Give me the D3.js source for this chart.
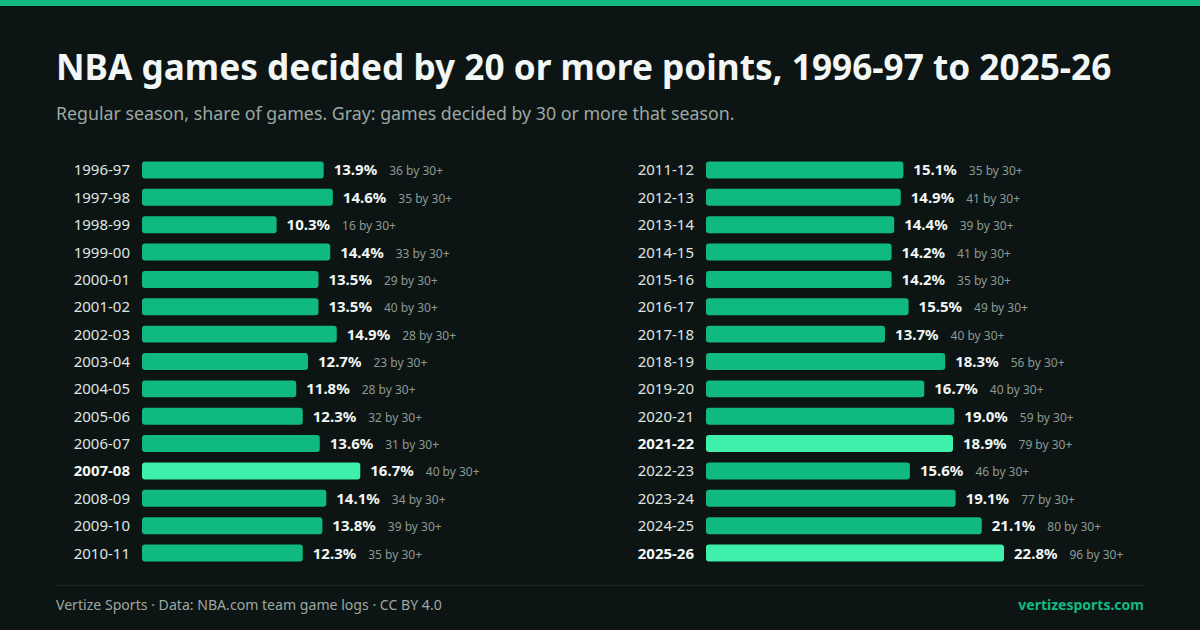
<!DOCTYPE html>
<html>
<head>
<meta charset="utf-8">
<script src="https://cdn.jsdelivr.net/npm/d3@7"></script>
<style>
body { margin:0; background:#0c1513; }
svg { display:block; font-family:"Noto Sans", "Open Sans", sans-serif; }
</style>
</head>
<body>
<svg></svg>
<script>
// seasons, share decided by 20+, count decided by 30+
var seasons = ["1996-97","1997-98","1998-99","1999-00","2000-01","2001-02","2002-03","2003-04","2004-05","2005-06","2006-07","2007-08","2008-09","2009-10","2010-11",
               "2011-12","2012-13","2013-14","2014-15","2015-16","2016-17","2017-18","2018-19","2019-20","2020-21","2021-22","2022-23","2023-24","2024-25","2025-26"];
var share20 = [13.9,14.6,10.3,14.4,13.5,13.5,14.9,12.7,11.8,12.3,13.6,16.7,14.1,13.8,12.3,
               15.1,14.9,14.4,14.2,14.2,15.5,13.7,18.3,16.7,19.0,18.9,15.6,19.1,21.1,22.8];
var games30 = [36,35,16,33,29,40,28,23,28,32,31,40,34,39,35,
               35,41,39,41,35,49,40,56,40,59,79,46,77,80,96];
var highlight = ["2007-08","2021-22","2025-26"];

var W = 1200, H = 630;
var svg = d3.select('svg').attr('width',W).attr('height',H);

svg.append('rect').attr('width',W).attr('height',H).attr('fill','#0c1513');
svg.append('rect').attr('width',W).attr('height',6).attr('fill','#10b981');

svg.append('text')
  .attr('x',56).attr('y',80)
  .attr('fill','#f2f6f4')
  .attr('font-size',35.2).attr('font-weight',700)
  .text('NBA games decided by 20 or more points, 1996-97 to 2025-26');

svg.append('text')
  .attr('x',56).attr('y',120)
  .attr('fill','#9ca8a3')
  .attr('font-size',17.8)
  .text('Regular season, share of games. Gray: games decided by 30 or more that season.');

var data = seasons.map(function(s,i){
  return {season:s, v:share20[i], n:games30[i], hi: highlight.indexOf(s) >= 0};
});

var xScale = d3.scaleLinear().domain([0,22.8]).range([0,298]);
var yScale = d3.scaleBand().domain(d3.range(15)).range([156.3,566.7]).paddingInner(0.38).paddingOuter(0.19);

var cols = [data.slice(0,15), data.slice(15)];
var colX = [142, 706];

cols.forEach(function(colData, c){
  var g = svg.append('g').attr('transform','translate('+colX[c]+',0)');
  var row = g.selectAll('g.row')
    .data(colData)
    .enter()
    .append('g')
    .attr('class','row')
    .attr('transform',function(d,i){ return 'translate(0,'+yScale(i)+')'; });

  row.append('rect')
    .attr('x',0).attr('y',0)
    .attr('width',function(d){ return xScale(d.v); })
    .attr('height',yScale.bandwidth())
    .attr('rx',3)
    .attr('fill',function(d){ return d.hi ? '#3ef0aa' : '#10b981'; });

  var mid = yScale.bandwidth()/2 + 5.5;

  row.append('text')
    .attr('x',-12).attr('y',mid)
    .attr('text-anchor','end')
    .attr('font-size',15)
    .attr('font-weight',function(d){ return d.hi ? 700 : 400; })
    .attr('fill',function(d){ return d.hi ? '#f2f6f4' : '#dfe5e2'; })
    .text(function(d){ return d.season; });

  var val = row.append('text')
    .attr('x',function(d){ return xScale(d.v)+10; })
    .attr('y',mid)
    .attr('font-size',15)
    .attr('font-weight',700)
    .attr('fill','#f2f6f4')
    .text(function(d){ return d.v.toFixed(1)+'%'; });

  row.append('text')
    .attr('x',function(d,i){
      return xScale(d.v)+10+val.nodes()[i].getComputedTextLength()+12;
    })
    .attr('y',mid)
    .attr('font-size',12)
    .attr('fill','#8e9994')
    .text(function(d){ return d.n+' by 30+'; });
});

svg.append('line')
  .attr('x1',56).attr('x2',1144)
  .attr('y1',585.5).attr('y2',585.5)
  .attr('stroke','#1c2824').attr('stroke-width',1);

svg.append('text')
  .attr('x',56).attr('y',610)
  .attr('font-size',14.1)
  .attr('fill','#9ca8a3')
  .text('Vertize Sports \u00b7 Data: NBA.com team game logs \u00b7 CC BY 4.0');

svg.append('text')
  .attr('x',1144).attr('y',610)
  .attr('text-anchor','end')
  .attr('font-size',14).attr('font-weight',700)
  .attr('fill','#10b981')
  .text('vertizesports.com');
</script>
</body>
</html>
